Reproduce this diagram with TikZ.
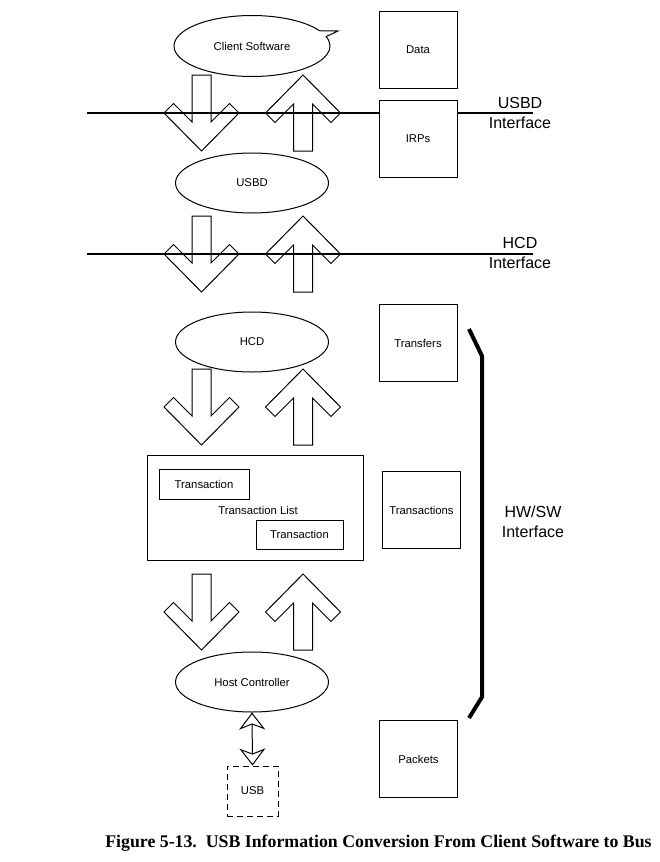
\documentclass[tikz,border=0pt]{standalone}
\usepackage{fontspec}
\setmainfont{Liberation Sans}
\newfontfamily\capfont{Liberation Serif}
\usetikzlibrary{shapes.geometric,shapes.callouts,arrows.meta}

\tikzset{
  small/.style={font=\fontsize{11.3}{13}\selectfont},
  layer/.style={ellipse,draw,fill=white,line width=1pt,minimum width=153pt,minimum height=60pt,inner sep=0pt,small},
  unit/.style={draw,fill=white,line width=1pt,minimum width=78pt,minimum height=77pt,inner sep=0pt,small},
  trans/.style={draw,fill=white,line width=1pt,inner sep=0pt,small},
  iface/.style={line width=1.8pt},
  ifacelabel/.style={align=center,font=\fontsize{16}{20}\selectfont},
  blockarrow/.style={line width=1pt},
  bracket/.style={line width=4pt},
  tipend/.style={line width=1pt,{Stealth[open,length=17pt,width=26pt,inset=5pt]}-{Stealth[open,length=17pt,width=26pt,inset=5pt]}}
}

% big block arrows, #1 = centre x, #2 = y of the wing tips
\newcommand{\flowdown}[2]{%
\draw[blockarrow,shift={(#1,#2)}] (-9.5,-38) -- (-9.5,9) -- (-28,-9.5) -- (-37.5,0) -- (0,38)
  -- (37.5,0) -- (28,-9.5) -- (9.5,9) -- (9.5,-38) -- cycle;}
\newcommand{\flowup}[2]{%
\draw[blockarrow,shift={(#1,#2)}] (-9.5,38) -- (-9.5,-9) -- (-28,9.5) -- (-37.5,0) -- (0,-38)
  -- (37.5,0) -- (28,9.5) -- (9.5,-9) -- (9.5,38) -- cycle;}

\begin{document}
\begin{tikzpicture}[x=1pt,y=-1pt]
\useasboundingbox (0,0) rectangle (660,862);

% software layers on the left
\node[ellipse callout,draw,line width=1pt,minimum width=156pt,minimum height=61pt,inner sep=0pt,small,
  callout absolute pointer={(338,31)},callout pointer arc=12] (cs) at (252,46) {Client Software};
\node[layer] (usbd) at (252,183) {USBD};
\node[layer] (hcd) at (252,342) {HCD};
\node[layer] (hc) at (252,682) {Host Controller};

% arrows between the layers
\foreach \y in {113,254,407,612} {
  \flowdown{201.5}{\y}
  \flowup{303}{\y}
}

% interface lines
\coordinate (usbdL) at (87,113);
\coordinate (usbdR) at (533,113);
\coordinate (hcdL) at (87,254);
\coordinate (hcdR) at (533,254);
\draw[iface] (usbdL) -- (usbdR);
\draw[iface] (hcdL) -- (hcdR);
\node[ifacelabel] (usbdif) at (520,113) {USBD\\Interface};
\node[ifacelabel] (hcdif) at (520,253) {HCD\\Interface};

% data forms on the right
\node[unit] (data) at (418,49.5) {Data};
\node[unit] (irps) at (418,138.5) {IRPs};
\node[unit] (transfers) at (418,343) {Transfers};
\node[unit] (transactions) at (421.5,510) {Transactions};
\node[unit] (packets) at (418.5,759) {Packets};

% transaction list
\node[trans,minimum width=216pt,minimum height=105pt] (tlist) at (255,507.5) {};
\node[small] (tlabel) at (258,510) {Transaction List};
\node[trans,minimum width=90pt,minimum height=30pt] (ta) at (204,484) {Transaction};
\node[trans,minimum width=87pt,minimum height=29pt] (tb) at (299.5,534.5) {Transaction};

% bus
\node[draw,line width=1pt,dash pattern=on 6pt off 4pt,minimum width=51pt,minimum height=50pt,inner sep=0pt,small] (usb) at (252.5,791) {USB};
\draw[tipend] (hc.south) -- (usb.north);

% hardware/software boundary
\draw[bracket] (469,329) -- (482,356) -- (482,697) -- (469,718);
\node[ifacelabel] (hwsw) at (533,522) {HW/SW\\Interface};

\node[font=\capfont\bfseries\fontsize{17.8}{20}\selectfont] (caption) at (378.5,843)
  {Figure 5-13.\ \ USB Information Conversion From Client Software to Bus};
\end{tikzpicture}
\end{document}
